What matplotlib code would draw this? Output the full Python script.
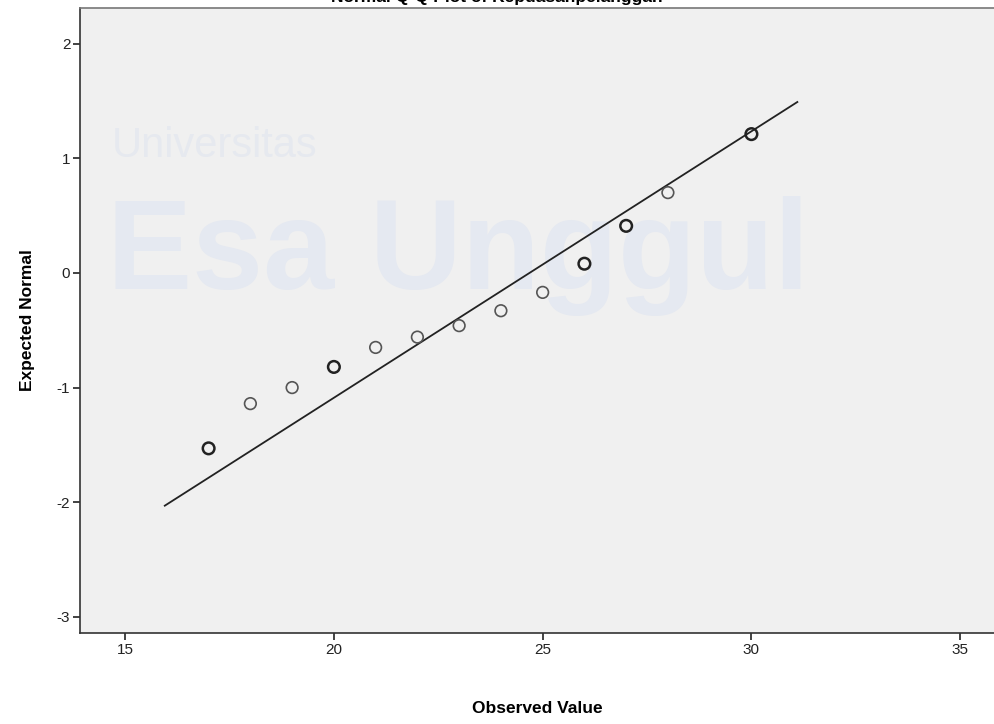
import matplotlib
matplotlib.use("Agg")
import matplotlib.pyplot as plt

observed = [17, 18, 19, 20, 21, 22, 23, 24, 25, 26, 27, 28, 30]
expected = [-1.53, -1.14, -1.00, -0.82, -0.65, -0.56, -0.46, -0.33, -0.17, 0.08, 0.41, 0.70, 1.21]
heavy = [17, 20, 26, 27, 30]  # points drawn darker (repeated values)

line_x = [15.95, 31.1]
line_y = [-2.03, 1.49]

xticks = [15, 20, 25, 30, 35]
yticks = [-3, -2, -1, 0, 1, 2]

plt.rcParams["font.family"] = ["Liberation Sans", "DejaVu Sans"]
plt.rcParams["axes.unicode_minus"] = False

fig = plt.figure(figsize=(9.94, 7.24), dpi=100)
ax = fig.add_axes([0.0805, 0.1257, 0.9195, 0.8633])
ax.set_facecolor("#f0f0f0")

# watermark
ax.text(0.035, 0.762, "Universitas", transform=ax.transAxes, fontsize=30,
        color="#e6e9ef", fontweight="light", zorder=0)
ax.text(0.03, 0.55, "Esa Unggul", transform=ax.transAxes, fontsize=92,
        color="#e5e9f1", fontweight="bold", zorder=0)

ax.plot(line_x, line_y, color="#222222", lw=1.3, zorder=2)

for x, y in zip(observed, expected):
    dark = x in heavy
    ax.scatter([x], [y], s=70, facecolors="none",
               edgecolors="#222222" if dark else "#555555",
               linewidths=1.8 if dark else 1.2, zorder=3)

ax.set_xlim(13.92, 35.81)
ax.set_ylim(-3.14, 2.31)
ax.set_xticks(xticks)
ax.set_yticks(yticks)
ax.tick_params(direction="out", length=5, width=1.2, labelsize=11, colors="#222222", pad=2)

ax.spines["right"].set_visible(False)
for s in ["left", "bottom", "top"]:
    ax.spines[s].set_linewidth(1.2)
    ax.spines[s].set_color("#333333")
ax.spines["top"].set_color("#777777")

ax.set_xlabel("Observed Value", fontsize=12.5, fontweight="bold", labelpad=32)
ax.set_ylabel("Expected Normal", fontsize=12.5, fontweight="bold", labelpad=16)

fig.text(0.5, 0.997, "Normal Q-Q Plot of Kepuasanpelanggan", ha="center",
         va="baseline", fontsize=12.5, fontweight="bold")

fig.savefig("out.png", dpi=100)
